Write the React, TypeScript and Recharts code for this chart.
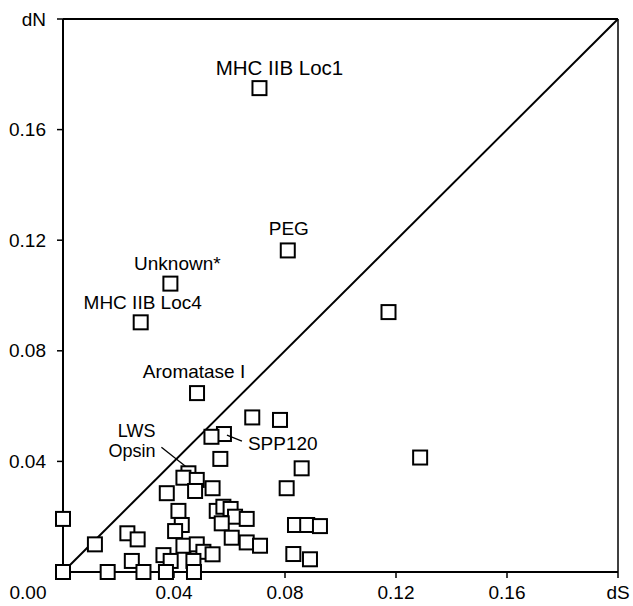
import React from 'react';
import { ScatterChart, Scatter, XAxis, YAxis, ReferenceLine } from 'recharts';

// synonymous (dS) and nonsynonymous (dN) divergence, one entry per gene
const dS = [
  0.0708, 0.081, 0.0387, 0.028, 0.0483, 0.1173, 0.1287, 0.0682, 0.0782, 0.058,
  0.0535, 0.0567, 0.086, 0.0806, 0.0452, 0.0434, 0.0482, 0.0476, 0.0539, 0.0374,
  0.0416, 0.0428, 0.0404, 0.0554, 0.0578, 0.0604, 0.062, 0.0662, 0.0572, 0.0608,
  0.0662, 0.071, 0.0434, 0.0482, 0.0506, 0.0539, 0.0362, 0.0388, 0.047, 0.0371,
  0.0472, 0.0836, 0.088, 0.0926, 0.083, 0.089, 0, 0, 0.0115, 0.0232,
  0.0269, 0.0161, 0.0248, 0.029,
];
const dN = [
  0.175, 0.1163, 0.1043, 0.0903, 0.0647, 0.094, 0.0414, 0.0559, 0.055, 0.0499,
  0.0489, 0.0409, 0.0375, 0.0303, 0.0357, 0.0341, 0.0333, 0.0293, 0.0303, 0.0285,
  0.0221, 0.017, 0.0148, 0.0221, 0.0236, 0.0228, 0.02, 0.0192, 0.0176, 0.0124,
  0.0107, 0.0095, 0.0095, 0.01, 0.0073, 0.0064, 0.0061, 0.004, 0.004, 0,
  0, 0.017, 0.017, 0.0166, 0.0065, 0.0046, 0.0192, 0, 0.01, 0.014,
  0.0118, 0, 0.004, 0,
];

const labelNames = ['MHC IIB Loc1', 'PEG', 'Unknown*', 'MHC IIB Loc4', 'Aromatase I', 'LWS Opsin', 'SPP120'];
const labelPoints = [0, 1, 2, 3, 4, 14, 9];

const xTicks = [0, 0.04, 0.08, 0.12, 0.16, 0.2];
const yTicks = [0.04, 0.08, 0.12, 0.16, 0.2];

const points = dS.map((x, i) => ({ dS: x, dN: dN[i] }));
const labelled = labelPoints.map((p, i) => ({ dS: dS[p], dN: dN[p], name: labelNames[i] }));

const FONT = '"Liberation Sans", Arial, sans-serif';

const Square = (props: any) => {
  const { cx, cy } = props;
  return <rect x={cx - 7} y={cy - 7} width={14} height={14} fill="#fff" stroke="#000" strokeWidth={2} />;
};

// where each label sits relative to its square
const labelLayout: Record<string, { dx: number; dy: number; anchor: string; size?: number }> = {
  'MHC IIB Loc1': { dx: 20, dy: -13, anchor: 'middle', size: 20.5 },
  PEG: { dx: 1, dy: -15, anchor: 'middle' },
  'Unknown*': { dx: 7, dy: -14, anchor: 'middle' },
  'MHC IIB Loc4': { dx: 2, dy: -13, anchor: 'middle' },
  'Aromatase I': { dx: -3, dy: -15, anchor: 'middle' },
  'LWS Opsin': { dx: -33, dy: -36, anchor: 'end' },
  SPP120: { dx: 24, dy: 16, anchor: 'start' },
};

const Label = (props: any) => {
  const { cx, cy, payload } = props;
  const l = labelLayout[payload.name];
  if (payload.name === 'LWS Opsin') {
    return (
      <g fontFamily={FONT} fontSize={18} fill="#000">
        <text x={cx + l.dx} y={cy + l.dy} textAnchor="end">LWS</text>
        <text x={cx + l.dx} y={cy + l.dy + 19.5} textAnchor="end">Opsin</text>
        <line x1={cx - 27} y1={cy - 26} x2={cx - 3} y2={cy - 7} stroke="#000" strokeWidth={1.3} />
      </g>
    );
  }
  return (
    <g fontFamily={FONT} fontSize={l.size || 19} fill="#000">
      <text x={cx + l.dx} y={cy + l.dy} textAnchor={l.anchor}>{payload.name}</text>
      {payload.name === 'SPP120' && (
        <line x1={cx + 3} y1={cy + 1} x2={cx + 18} y2={cy + 7} stroke="#000" strokeWidth={1.3} />
      )}
    </g>
  );
};

const XTick = (props: any) => {
  const { x, y, payload } = props;
  const v = payload.value;
  const txt = v === 0.2 ? 'dS' : v.toFixed(2);
  return (
    <text x={v === 0 ? x - 35 : x} y={y + 19} textAnchor="middle" fontFamily={FONT} fontSize={19} fill="#000">
      {txt}
    </text>
  );
};

const YTick = (props: any) => {
  const { x, y, payload } = props;
  const v = payload.value;
  const txt = v === 0.2 ? 'dN' : v.toFixed(2);
  return (
    <text x={x - 9} y={y + 6.5} textAnchor="end" fontFamily={FONT} fontSize={19} fill="#000">
      {txt}
    </text>
  );
};

export default function App() {
  return (
    <div style={{ position: 'absolute', left: 0, top: 0, background: '#fff' }}>
      <ScatterChart width={633} height={606} margin={{ top: 19, right: 15, bottom: 0, left: 0 }}>
        <XAxis
          dataKey="dS"
          type="number"
          domain={[0, 0.2]}
          ticks={xTicks}
          interval={0}
          height={34}
          axisLine={{ stroke: '#000', strokeWidth: 2 }}
          tickLine={{ stroke: '#000', strokeWidth: 1.5 }}
          tickSize={6}
          tick={<XTick />}
        />
        <YAxis
          dataKey="dN"
          type="number"
          domain={[0, 0.2]}
          ticks={yTicks}
          interval={0}
          width={63}
          axisLine={{ stroke: '#000', strokeWidth: 2 }}
          tickLine={{ stroke: '#000', strokeWidth: 1.5 }}
          tickSize={6}
          tick={<YTick />}
        />
        <ReferenceLine y={0.2} stroke="#000" strokeWidth={2} />
        <ReferenceLine x={0.2} stroke="#000" strokeWidth={1.5} />
        <ReferenceLine
          segment={[{ x: 0, y: 0 }, { x: 0.2, y: 0.2 }]}
          stroke="#000"
          strokeWidth={2}
        />
        <Scatter data={points} shape={<Square />} isAnimationActive={false} />
        <Scatter data={labelled} shape={<Label />} isAnimationActive={false} />
      </ScatterChart>
    </div>
  );
}
